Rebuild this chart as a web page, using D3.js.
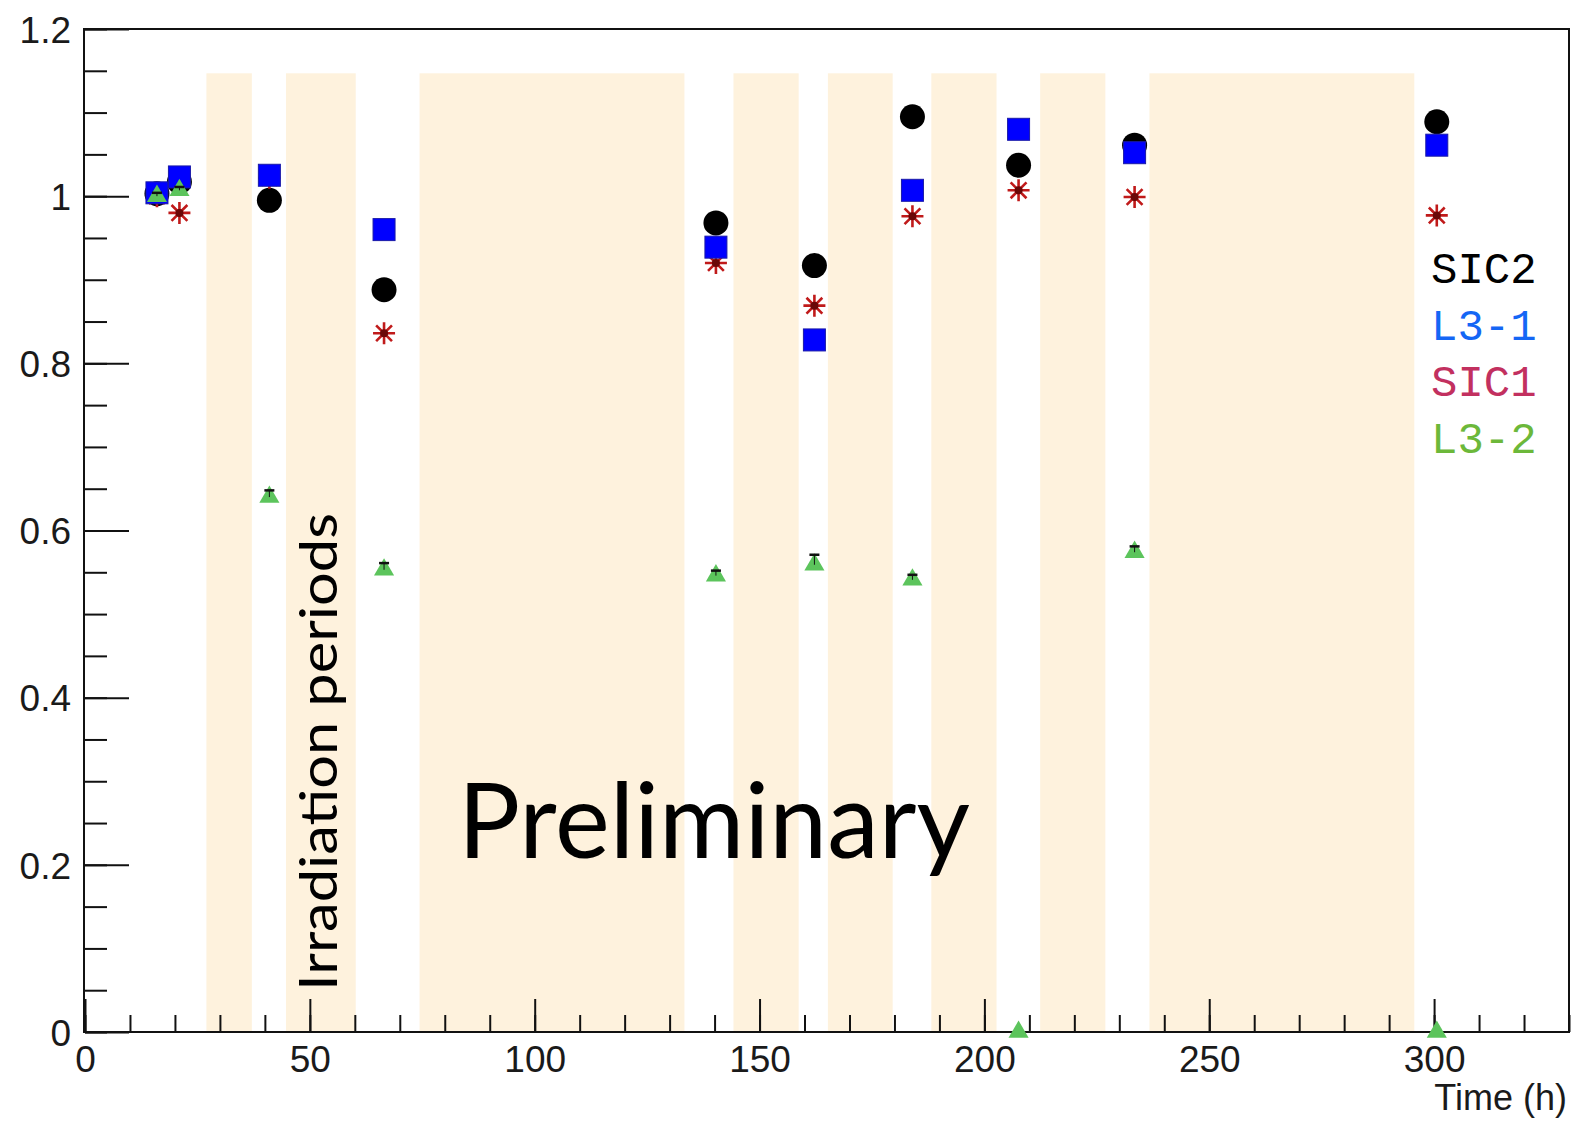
<!DOCTYPE html>
<html>
<head>
<meta charset="utf-8">
<script src="https://cdn.jsdelivr.net/npm/d3@7"></script>
<style>
  body { margin: 0; background: #fff; }
  svg { display: block; }
</style>
</head>
<body>
<div id="show-graph"></div>
<script>
// measured times (h) of each test
const times = [16, 21, 41, 66.5, 140.3, 162.2, 184, 207.6, 233.4, 300.6]
// relative response of each sensor
const sic2 = [1.003, 1.017, 0.995, 0.888, 0.968, 0.917, 1.095, 1.037, 1.061, 1.089]
const l31 = [1.004, 1.023, 1.025, 0.960, 0.939, 0.828, 1.007, 1.080, 1.052, 1.061]
const sic1 = [1.0, 0.980, 1.022, 0.836, 0.920, 0.869, 0.976, 1.007, 0.999, 0.977]
const l32 = [1.0, 1.007, 0.640, 0.553, 0.546, 0.559, 0.541, 0, 0.574, 0]
const l32err = [0.004, 0.004, 0.008, 0.008, 0.006, 0.012, 0.006, 0, 0.007, 0]

// irradiation periods (h)
const bandStart = [27, 44.7, 74.4, 144.2, 165.2, 188.2, 212.4, 236.7]
const bandEnd = [37.1, 60.2, 133.3, 158.7, 179.6, 202.7, 226.9, 295.6]
const bandTop = 1.147

const xMajorTicks = [0, 50, 100, 150, 200, 250, 300]
const yMajorTicks = [0, 0.2, 0.4, 0.6, 0.8, 1, 1.2]
const legendNames = ['SIC2', 'L3-1', 'SIC1', 'L3-2']
const legendColors = ['#000000', '#1466f5', '#c2305f', '#6cb83a']

const W = 1572
const H = 1121
const margin = { top: 29, right: 3, bottom: 89, left: 85 }

const svg = d3.select('#show-graph')
  .append('svg')
  .attr('width', W)
  .attr('height', H)

const xScale = d3.scaleLinear()
  .domain([0, 330])
  .range([margin.left, W - margin.right])
const yScale = d3.scaleLinear()
  .domain([0, 1.2])
  .range([H - margin.bottom, margin.top])

// shaded bands
svg.append('g')
  .selectAll('rect')
  .data(bandStart)
  .join('rect')
  .attr('x', (d, i) => xScale(d))
  .attr('width', (d, i) => xScale(bandEnd[i]) - xScale(d))
  .attr('y', yScale(bandTop))
  .attr('height', yScale(0) - yScale(bandTop))
  .attr('fill', '#fef2dd')

// axes
const labelFont = '"Liberation Sans", Arial, sans-serif'
const y0 = yScale(0)
const x0 = xScale(0)

svg.append('g')
  .attr('transform', 'translate(0,' + y0 + ')')
  .call(d3.axisBottom(xScale).tickValues(d3.range(0, 331, 10)).tickSizeInner(-17).tickSizeOuter(0).tickFormat(''))
  .call(g => g.select('.domain').remove())
  .call(g => g.selectAll('line').attr('stroke', '#111').attr('stroke-width', 2))

svg.append('g')
  .attr('transform', 'translate(0,' + y0 + ')')
  .call(d3.axisBottom(xScale).tickValues(xMajorTicks).tickSizeInner(-33).tickSizeOuter(0).tickPadding(13))
  .call(g => g.select('.domain').remove())
  .call(g => g.selectAll('line').attr('stroke', '#111').attr('stroke-width', 2))
  .call(g => g.selectAll('text')
    .attr('font-family', labelFont)
    .attr('font-size', 37)
    .attr('fill', '#1a1a1a')
    .attr('dy', '0.72em'))

svg.append('g')
  .attr('transform', 'translate(' + x0 + ',0)')
  .call(d3.axisLeft(yScale).tickValues(d3.range(0, 1.2001, 0.05)).tickSizeInner(-22).tickSizeOuter(0).tickFormat(''))
  .call(g => g.select('.domain').remove())
  .call(g => g.selectAll('line').attr('stroke', '#111').attr('stroke-width', 2))

svg.append('g')
  .attr('transform', 'translate(' + x0 + ',0)')
  .call(d3.axisLeft(yScale).tickValues(yMajorTicks).tickSizeInner(-44).tickSizeOuter(0).tickPadding(14).tickFormat(d => String(d)))
  .call(g => g.select('.domain').remove())
  .call(g => g.selectAll('line').attr('stroke', '#111').attr('stroke-width', 2))
  .call(g => g.selectAll('text')
    .attr('font-family', labelFont)
    .attr('font-size', 37)
    .attr('fill', '#1a1a1a')
    .attr('dy', '0.36em'))

// frame
svg.append('rect')
  .attr('x', x0 - 1)
  .attr('y', yScale(1.2))
  .attr('width', xScale(330) - x0 + 1)
  .attr('height', y0 - yScale(1.2))
  .attr('fill', 'none')
  .attr('stroke', '#111')
  .attr('stroke-width', 2)

svg.append('text')
  .attr('x', W - 5)
  .attr('y', 1110)
  .attr('text-anchor', 'end')
  .attr('font-family', labelFont)
  .attr('font-size', 36)
  .attr('fill', '#1a1a1a')
  .text('Time (h)')

// markers
svg.append('g')
  .selectAll('circle')
  .data(sic2)
  .join('circle')
  .attr('cx', (d, i) => xScale(times[i]))
  .attr('cy', d => yScale(d))
  .attr('r', 12.5)
  .attr('fill', '#000')

const starSize = 11
const starPath = () => {
  const s = starSize
  const q = s * 0.72
  return 'M' + -s + ',0H' + s + 'M0,' + -s + 'V' + s +
    'M' + -q + ',' + -q + 'L' + q + ',' + q +
    'M' + -q + ',' + q + 'L' + q + ',' + -q
}
svg.append('g')
  .selectAll('path')
  .data(sic1)
  .join('path')
  .attr('transform', (d, i) => 'translate(' + xScale(times[i]) + ',' + yScale(d) + ')')
  .attr('d', starPath())
  .attr('stroke', '#c01a1a')
  .attr('stroke-width', 2.6)
  .attr('fill', 'none')
svg.append('g')
  .selectAll('circle')
  .data(sic1)
  .join('circle')
  .attr('cx', (d, i) => xScale(times[i]))
  .attr('cy', d => yScale(d))
  .attr('r', 4)
  .attr('fill', '#6a0808')

svg.append('g')
  .selectAll('rect')
  .data(l31)
  .join('rect')
  .attr('x', (d, i) => xScale(times[i]) - 11)
  .attr('y', d => yScale(d) - 11)
  .attr('width', 22)
  .attr('height', 22)
  .attr('fill', '#0000ff')
  .attr('stroke', '#1a1aa8')
  .attr('stroke-width', 1)

// L3-2 triangles with small error bars
const tri = d3.symbol().type(d3.symbolTriangle).size(175)
svg.append('g')
  .selectAll('path')
  .data(l32)
  .join('path')
  .attr('transform', (d, i) => 'translate(' + xScale(times[i]) + ',' + yScale(d) + ')')
  .attr('d', tri)
  .attr('fill', '#5cc45c')

const errG = svg.append('g')
l32.forEach((v, i) => {
  if (!l32err[i]) return
  const cx = xScale(times[i])
  const top = yScale(v + l32err[i])
  errG.append('line')
    .attr('x1', cx).attr('x2', cx)
    .attr('y1', top).attr('y2', yScale(v))
    .attr('stroke', '#111').attr('stroke-width', 1)
  errG.append('line')
    .attr('x1', cx - 5).attr('x2', cx + 5)
    .attr('y1', top).attr('y2', top)
    .attr('stroke', '#111').attr('stroke-width', 2.5)
})

// legend
svg.append('g')
  .selectAll('text')
  .data(legendNames)
  .join('text')
  .attr('x', 1431)
  .attr('y', (d, i) => 283 + i * 56.7)
  .attr('font-family', '"Liberation Mono", "DejaVu Sans Mono", monospace')
  .attr('font-size', 44)
  .attr('fill', (d, i) => legendColors[i])
  .text(d => d)

// annotations
svg.append('text')
  .attr('transform', 'translate(337,' + 991 + ') rotate(-90)')
  .attr('font-family', 'Lato, "Open Sans", sans-serif')
  .attr('font-size', 52)
  .attr('textLength', 478)
  .attr('lengthAdjust', 'spacingAndGlyphs')
  .attr('fill', '#000')
  .text('Irradiation periods')

svg.append('text')
  .attr('x', 458)
  .attr('y', 858)
  .attr('font-family', 'Lato, "Open Sans", sans-serif')
  .attr('font-size', 104)
  .attr('textLength', 512)
  .attr('lengthAdjust', 'spacingAndGlyphs')
  .attr('fill', '#000')
  .text('Preliminary')
</script>
</body>
</html>
